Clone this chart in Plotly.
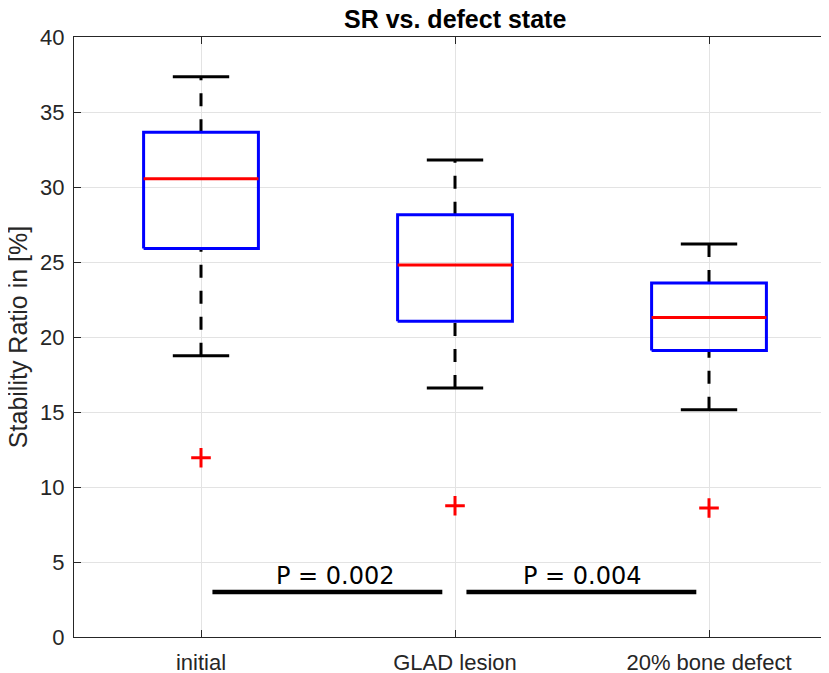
import plotly.graph_objects as go

categories = ["initial", "GLAD lesion", "20% bone defect"]
q1 = [25.9, 21.05, 19.1]
median = [30.55, 24.8, 21.3]
q3 = [33.65, 28.15, 23.6]
lower_whisker = [18.75, 16.6, 15.15]
upper_whisker = [37.35, 31.8, 26.2]
outliers = [11.95, 8.75, 8.6]
y_ticks = [0, 5, 10, 15, 20, 25, 30, 35, 40]
p_labels = ["P = 0.002", "P = 0.004"]
p_label_x = [1.53, 2.5]
p_pairs = [(1, 2), (2, 3)]
p_bar_y = 3.0

HW = 0.226   # box half width
CW = 0.111   # cap half width

fig = go.Figure()
for i, cat in enumerate(categories):
    x = i + 1
    fig.add_trace(go.Scatter(x=[x, x], y=[q3[i], upper_whisker[i]], mode="lines",
                             line=dict(color="black", width=3, dash="13px,13px"),
                             showlegend=False, hoverinfo="skip"))
    fig.add_trace(go.Scatter(x=[x, x], y=[lower_whisker[i], q1[i]], mode="lines",
                             line=dict(color="black", width=3, dash="13px,13px"),
                             showlegend=False, hoverinfo="skip"))
    for v in (upper_whisker[i], lower_whisker[i]):
        fig.add_trace(go.Scatter(x=[x - CW, x + CW], y=[v, v], mode="lines",
                                 line=dict(color="black", width=3),
                                 showlegend=False, hoverinfo="skip"))
    fig.add_trace(go.Scatter(x=[x - HW, x + HW, x + HW, x - HW, x - HW],
                             y=[q1[i], q1[i], q3[i], q3[i], q1[i]], mode="lines",
                             line=dict(color="#0000ff", width=3),
                             showlegend=False, hoverinfo="skip"))
    fig.add_trace(go.Scatter(x=[x - HW, x + HW], y=[median[i], median[i]], mode="lines",
                             line=dict(color="#ff0000", width=3),
                             showlegend=False, hoverinfo="skip"))

fig.add_trace(go.Scatter(x=[1, 2, 3], y=outliers, mode="markers",
                         marker=dict(symbol="cross-thin", size=14,
                                     line=dict(color="#ff0000", width=3)),
                         showlegend=False, hoverinfo="skip"))

for (a, b), lab, lx in zip(p_pairs, p_labels, p_label_x):
    fig.add_trace(go.Scatter(x=[a + 0.045, b - 0.05], y=[p_bar_y, p_bar_y], mode="lines",
                             line=dict(color="black", width=4.5),
                             showlegend=False, hoverinfo="skip"))
    fig.add_annotation(x=lx, y=p_bar_y + 1.05, xref="x", yref="y",
                       text=lab, showarrow=False, xanchor="center", yanchor="middle",
                       font=dict(family="DejaVu Sans", size=24, color="black"))

fig.add_annotation(x=2, xref="x", y=1, yref="paper", yanchor="bottom", yshift=2,
                   text="<b>SR vs. defect state</b>", showarrow=False,
                   font=dict(family="Liberation Sans", size=25, color="black"))

fig.add_annotation(x=-0.074, xref="paper", y=0.5, yref="paper", xanchor="center",
                   yanchor="middle", textangle=-90, text="Stability Ratio in [%]",
                   showarrow=False,
                   font=dict(family="Liberation Sans", size=25, color="#262626"))

fig.update_layout(
    width=821, height=665,
    margin=dict(l=66, r=0, t=29, b=36, autoexpand=False),
    plot_bgcolor="white", paper_bgcolor="white",
    font=dict(family="Liberation Sans", size=22, color="#262626"),
    xaxis=dict(range=[0.5, 3.4724], tickvals=[1, 2, 3], ticktext=categories,
               showgrid=True, gridcolor="#e3e3e3", gridwidth=1,
               showline=True, linecolor="#262626", linewidth=1, mirror="ticks",
               ticks="inside", ticklen=7, tickcolor="#262626", zeroline=False,
               tickfont=dict(size=22, color="#262626"), ticklabelstandoff=6),
    yaxis=dict(range=[0, 40], tickvals=y_ticks,
               showgrid=True, gridcolor="#e3e3e3", gridwidth=1,
               showline=True, linecolor="#262626", linewidth=1,
               ticks="inside", ticklen=7, tickcolor="#262626", zeroline=False,
               tickfont=dict(size=22, color="#262626"), ticklabelstandoff=4),
)

fig.write_html("out.html")
